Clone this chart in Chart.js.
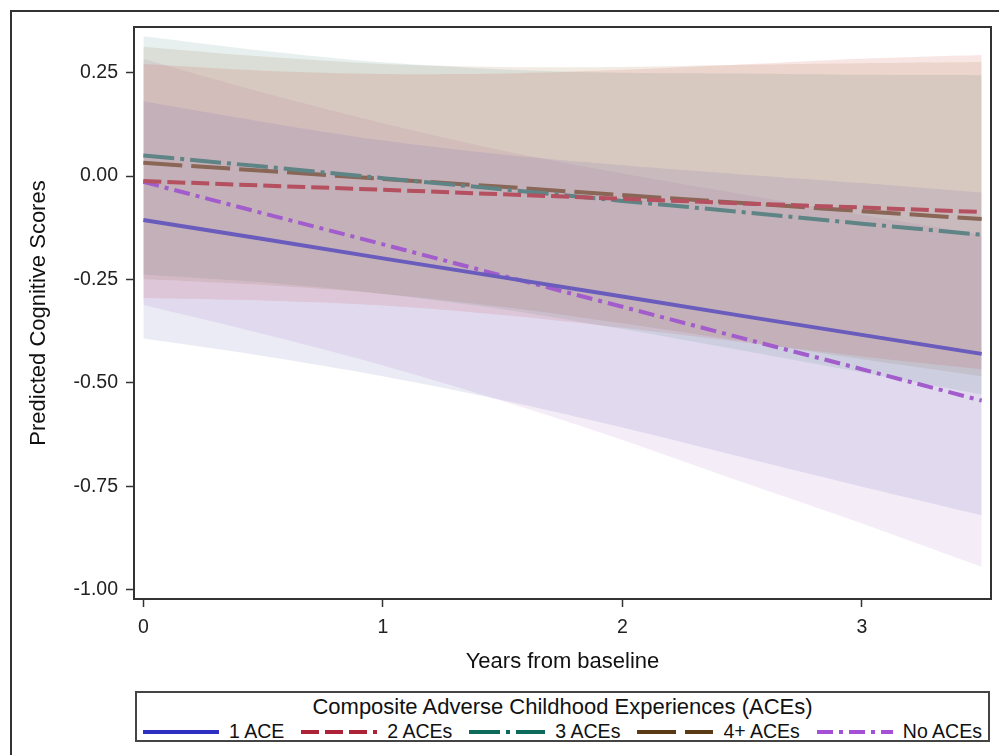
<!DOCTYPE html>
<html>
<head>
<meta charset="utf-8">
<script src="https://cdn.jsdelivr.net/npm/chart.js@4.4.1/dist/chart.umd.min.js"></script>
<style>
  body { margin: 0; background: #fff; font-family: "Liberation Sans", Arial, sans-serif; }
  #wrap { position: relative; width: 999px; height: 755px; overflow: hidden; }
  #frame { position: absolute; left: 10px; top: 10px; width: 1200px; height: 1000px;
           border-left: 2px solid #333; border-top: 2px solid #333; }
  #c { position: absolute; left: 0; top: 0; }
  #legend { position: absolute; left: 135px; top: 691px; width: 851px; height: 47px;
            border: 2px solid #444; background: #fff; }
  #legend .ttl { position: absolute; left: 0; right: 0; top: 1px; text-align: center;
                 font-size: 22px; color: #111; white-space: nowrap; }
  #legend .row { position: absolute; left: 6px; top: 27px; width: 900px; display: flex; align-items: center;
                 font-size: 19.5px; color: #111; white-space: nowrap; }
  #legend .item { display: flex; align-items: center; margin-right: 17px; flex: none; }
  #legend svg { margin-right: 10px; flex: none; }
</style>
</head>
<body>
<div id="wrap">
  <div id="frame"></div>
  <canvas id="c" width="999" height="680"></canvas>
  <div id="legend">
    <div class="ttl">Composite Adverse Childhood Experiences (ACEs)</div>
    <div class="row" id="legendRow"></div>
  </div>
</div>
<script>
// years from baseline
const years = [0, 0.5, 1, 1.5, 2, 2.5, 3, 3.5];

// predicted scores per group
const ace1 = [-0.106, -0.152, -0.199, -0.245, -0.291, -0.338, -0.384, -0.430];
const ace2 = [-0.012, -0.023, -0.033, -0.044, -0.055, -0.066, -0.076, -0.087];
const ace3 = [0.050, 0.023, -0.005, -0.032, -0.060, -0.087, -0.115, -0.142];
const ace4 = [0.032, 0.013, -0.007, -0.026, -0.046, -0.065, -0.085, -0.104];
const ace0 = [-0.014, -0.090, -0.165, -0.241, -0.316, -0.392, -0.467, -0.543];

// confidence bands
const ace1Hi = [0.181, 0.131, 0.086, 0.052, 0.026, 0.004, -0.017, -0.040];
const ace1Lo = [-0.393, -0.435, -0.484, -0.542, -0.608, -0.680, -0.751, -0.820];
const ace2Hi = [0.271, 0.255, 0.247, 0.248, 0.257, 0.270, 0.284, 0.293];
const ace2Lo = [-0.295, -0.301, -0.313, -0.336, -0.367, -0.402, -0.436, -0.467];
const ace3Hi = [0.338, 0.303, 0.275, 0.258, 0.250, 0.248, 0.245, 0.244];
const ace3Lo = [-0.238, -0.257, -0.285, -0.322, -0.370, -0.422, -0.475, -0.528];
const ace4Hi = [0.313, 0.289, 0.271, 0.264, 0.264, 0.269, 0.273, 0.276];
const ace4Lo = [-0.249, -0.263, -0.285, -0.316, -0.356, -0.399, -0.443, -0.484];
const ace0Hi = [0.284, 0.202, 0.128, 0.062, 0.006, -0.044, -0.094, -0.141];
const ace0Lo = [-0.312, -0.382, -0.458, -0.544, -0.638, -0.740, -0.840, -0.945];

const yTicks = [-1.00, -0.75, -0.50, -0.25, 0.00, 0.25];
const xTicks = [0, 1, 2, 3];

const groups = [
  { name: '1 ACE',   mid: ace1, hi: ace1Hi, lo: ace1Lo, line: '#6a5cbc', key: '#2e2ec2', band: 'rgba(60,60,170,0.10)',  dash: [] },
  { name: '2 ACEs',  mid: ace2, hi: ace2Hi, lo: ace2Lo, line: '#b4505f', key: '#ad2236', band: 'rgba(200,60,50,0.13)',  dash: [18, 6] },
  { name: '3 ACEs',  mid: ace3, hi: ace3Hi, lo: ace3Lo, line: '#5e8486', key: '#0e6b5c', band: 'rgba(60,130,120,0.12)', dash: [31, 6, 4, 6] },
  { name: '4+ ACEs', mid: ace4, hi: ace4Hi, lo: ace4Lo, line: '#8a6656', key: '#5a3a14', band: 'rgba(150,100,40,0.13)', dash: [39, 9] },
  { name: 'No ACEs', mid: ace0, hi: ace0Hi, lo: ace0Lo, line: '#a25ccc', key: '#a64fd6', band: 'rgba(150,70,180,0.10)', dash: [16, 6, 4, 6] }
];

const pts = arr => years.map((x, i) => ({ x: x, y: arr[i] }));

const datasets = [];
groups.forEach(g => {
  datasets.push({ data: pts(g.hi), borderWidth: 0, borderColor: 'transparent', backgroundColor: g.band,
                  fill: '+1', pointRadius: 0, tension: 0.3 });
  datasets.push({ data: pts(g.lo), borderWidth: 0, borderColor: 'transparent',
                  fill: false, pointRadius: 0, tension: 0.3 });
});
groups.forEach(g => {
  datasets.push({ label: g.name, data: pts(g.mid), borderColor: g.line, borderWidth: 4,
                  borderDash: g.dash, fill: false, pointRadius: 0, tension: 0 });
});

const boxPlugin = {
  id: 'box',
  afterDraw(chart) {
    const a = chart.chartArea, ctx = chart.ctx;
    ctx.save();
    ctx.strokeStyle = '#333';
    ctx.lineWidth = 2;
    ctx.strokeRect(a.left, a.top, a.right - a.left, a.bottom - a.top);
    ctx.restore();
  }
};

const fontTick = { family: '"Liberation Sans", Arial, sans-serif', size: 19.5 };
const fontTitle = { family: '"Liberation Sans", Arial, sans-serif', size: 22 };

new Chart(document.getElementById('c'), {
  type: 'line',
  data: { datasets: datasets },
  plugins: [boxPlugin],
  options: {
    responsive: false,
    animation: false,
    layout: { padding: { top: 27, right: 8, left: 0, bottom: 0 } },
    plugins: {
      legend: { display: false },
      tooltip: { enabled: false },
      filler: { drawTime: 'beforeDatasetsDraw' }
    },
    scales: {
      x: {
        type: 'linear',
        min: -0.039, max: 3.539,
        afterBuildTicks: s => { s.ticks = xTicks.map(v => ({ value: v })); },
        afterFit: s => { s.height = 81; },
        border: { display: false },
        grid: { drawOnChartArea: false, drawTicks: true, tickLength: 8, color: '#333', tickWidth: 1.5 },
        ticks: { font: fontTick, color: '#222', padding: 9, callback: v => String(v) },
        title: { display: true, text: 'Years from baseline', font: fontTitle, color: '#111',
                 padding: { top: 0, bottom: 5 } }
      },
      y: {
        min: -1.0227, max: 0.3605,
        afterBuildTicks: s => { s.ticks = yTicks.map(v => ({ value: v })); },
        afterFit: s => { s.width = 134; },
        border: { display: false },
        grid: { drawOnChartArea: false, drawTicks: true, tickLength: 8, color: '#333', tickWidth: 1.5 },
        ticks: { font: fontTick, color: '#222', padding: 8, callback: v => v.toFixed(2) },
        title: { display: true, text: 'Predicted Cognitive Scores', font: fontTitle, color: '#111',
                 padding: { top: 26, bottom: 0 } }
      }
    }
  }
});

// legend row
const row = document.getElementById('legendRow');
groups.forEach(g => {
  const item = document.createElement('div');
  item.className = 'item';
  const dash = g.dash.length ? ' stroke-dasharray="' + g.dash.join(' ') + '"' : '';
  item.innerHTML = '<svg width="76" height="8"><line x1="0" y1="4" x2="76" y2="4" stroke="' + g.key +
    '" stroke-width="4"' + dash + '/></svg><span>' + g.name + '</span>';
  row.appendChild(item);
});
</script>
</body>
</html>
